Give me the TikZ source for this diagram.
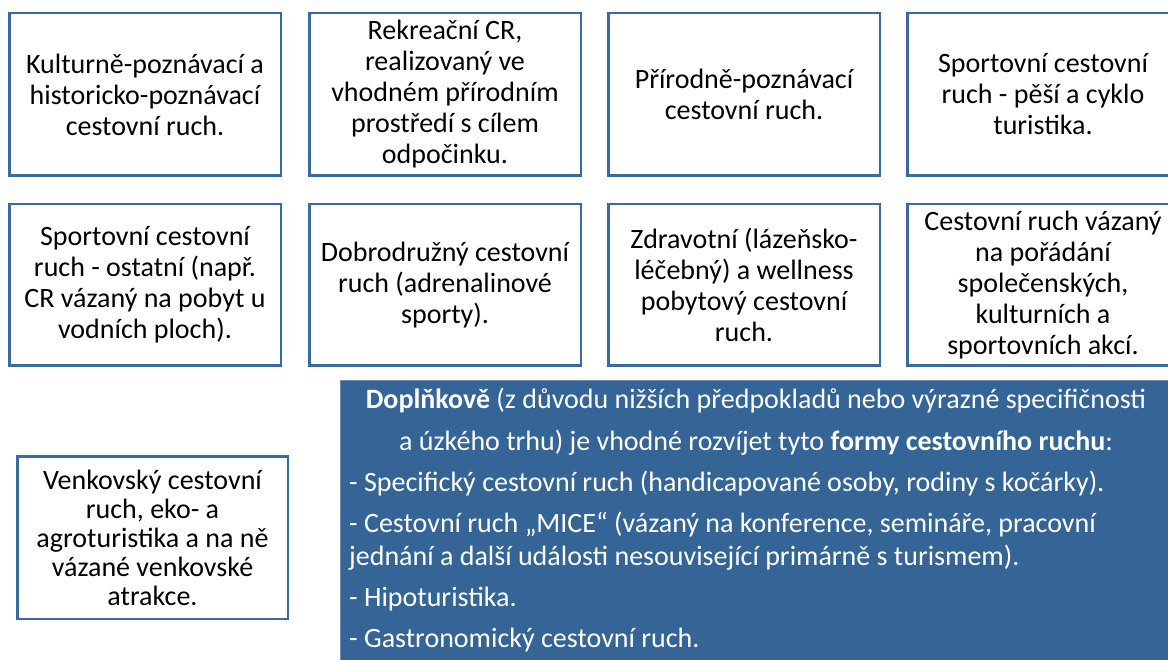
\documentclass[tikz,border=0pt]{standalone}
\usepackage{fontspec}
\setmainfont{Carlito}
\usetikzlibrary{fit}
\definecolor{boxblue}{RGB}{58,106,164}
\definecolor{fillblue}{RGB}{52,101,150}
\definecolor{edgeblue}{RGB}{110,140,180}
\tikzset{
  card/.style={draw=boxblue, line width=2.5pt, fill=white, minimum width=271.5pt,
    align=center, inner sep=0pt, text=black, font=\fontsize{28}{31}\selectfont},
  rowone/.style={card, minimum height=162.5pt},
  rowtwo/.style={card, minimum height=161.5pt},
  panel/.style={draw=edgeblue, line width=1pt, fill=fillblue, inner sep=0pt},
  bline/.style={text=white, inner sep=0pt, font=\fontsize{28}{33}\selectfont},
}
\begin{document}
\begin{tikzpicture}[x=1pt,y=-1pt]
\useasboundingbox (0,0) rectangle (1168,660);
% row 1
\node[rowone] (k1) at (145,94.5) {Kulturně-poznávací a\\historicko-poznávací\\cestovní ruch.};
\node[rowone] (k2) at (445,94.5) {Rekreační CR,\\realizovaný ve\\vhodném přírodním\\prostředí s cílem\\odpočinku.};
\node[rowone] (k3) at (744,94.5) {Přírodně-poznávací\\cestovní ruch.};
\node[rowone] (k4) at (1043,94.5) {Sportovní cestovní\\ruch - pěší a cyklo\\turistika.};
% row 2
\node[rowtwo] (k5) at (145,285) {Sportovní cestovní\\ruch - ostatní (např.\\CR vázaný na pobyt u\\vodních ploch).};
\node[rowtwo] (k6) at (445,285) {Dobrodružný cestovní\\ruch (adrenalinové\\sporty).};
\node[rowtwo] (k7) at (744,285) {Zdravotní (lázeňsko-\\léčebný) a wellness\\pobytový cestovní\\ruch.};
\node[rowtwo] (k8) at (1043,285) {Cestovní ruch vázaný\\na pořádání\\společenských,\\kulturních a\\sportovních akcí.};
% rural box
\node[card, minimum width=270.5pt, minimum height=162.5pt, font=\fontsize{28}{29}\selectfont] (k9) at (152.5,537.5) {Venkovský cestovní\\ruch, eko- a\\agroturistika a na ně\\vázané venkovské\\atrakce.};
% blue panel
\path (340,381) coordinate (pa) (1175,670) coordinate (pb);
\node[panel, fit=(pa)(pb)] (panel) {};
\node[bline, anchor=base] (l1) at (756,409) {\textbf{Doplňkově} (z důvodu nižších předpokladů nebo výrazné specifičnosti};
\node[bline, anchor=base] (l2) at (756,450) {a úzkého trhu) je vhodné rozvíjet tyto \textbf{formy cestovního ruchu}:};
\node[bline, anchor=base west] (l3) at (349,491) {- Specifický cestovní ruch (handicapované osoby, rodiny s kočárky).};
\node[bline, anchor=base west] (l4) at (349,532) {- Cestovní ruch „MICE“ (vázaný na konference, semináře, pracovní};
\node[bline, anchor=base west] (l5) at (349,565) {jednání a další události nesouvisející primárně s turismem).};
\node[bline, anchor=base west] (l6) at (349,606) {- Hipoturistika.};
\node[bline, anchor=base west] (l7) at (349,647) {- Gastronomický cestovní ruch.};
\end{tikzpicture}
\end{document}
